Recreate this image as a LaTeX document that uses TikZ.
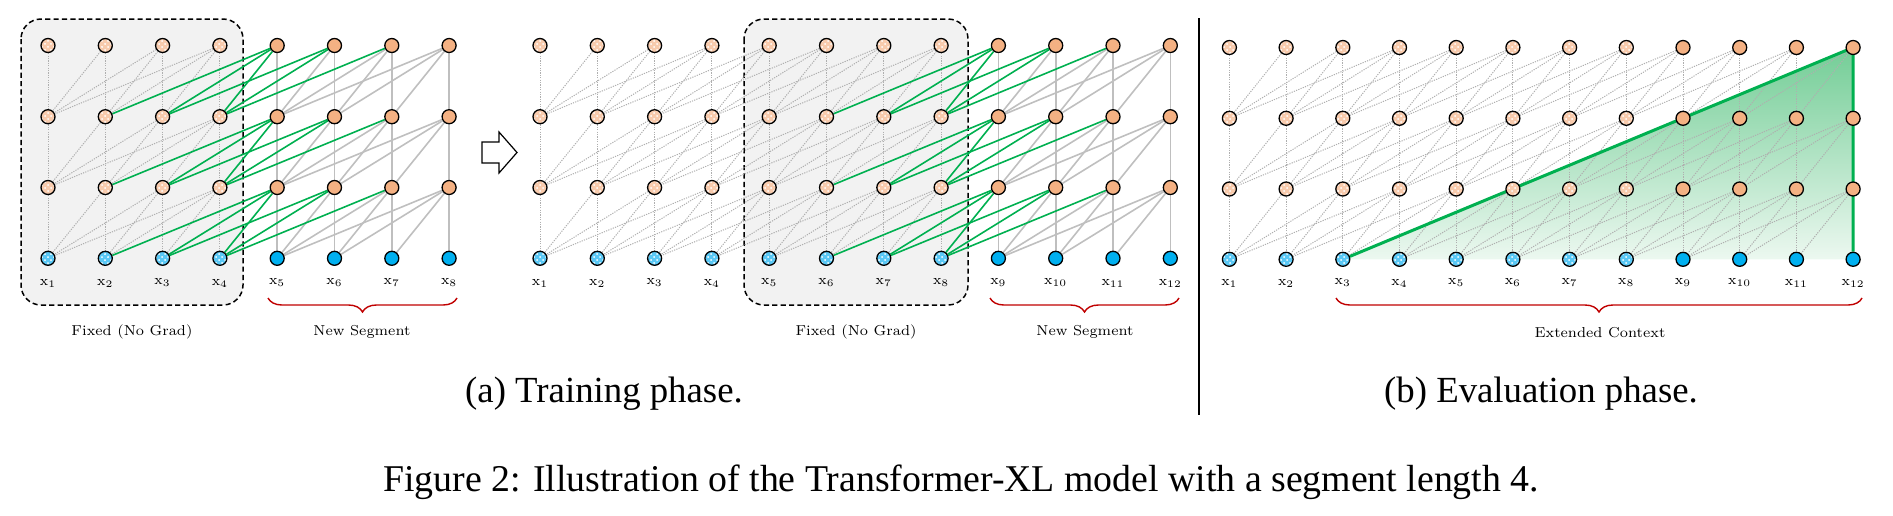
\documentclass[tikz,border=0pt]{standalone}
\usepackage{fontspec}
\newfontfamily\capfont{Liberation Serif}
\usetikzlibrary{patterns,decorations.pathreplacing}
\definecolor{orangeS}{RGB}{244,177,131}
\definecolor{orangeL}{RGB}{248,203,173}
\definecolor{blueS}{RGB}{0,176,240}
\definecolor{blueL}{RGB}{90,200,245}
\definecolor{greenE}{RGB}{0,176,80}
\definecolor{greyE}{RGB}{191,191,191}
\definecolor{dotC}{RGB}{175,175,175}
\definecolor{braceR}{RGB}{192,0,0}
\definecolor{boxF}{RGB}{242,242,242}
\definecolor{triTop}{RGB}{115,205,150}
\definecolor{triBot}{RGB}{236,248,240}
\pgfdeclarelayer{back}
\pgfdeclarelayer{edges}
\pgfsetlayers{back,edges,main}
\begin{document}
\begin{tikzpicture}[x=0.5pt,y=-0.5pt,
  unit/.style={circle, draw=black, line width=0.65pt, minimum size=7pt, inner sep=0pt},
  hid/.style={unit, fill=orangeS},
  hidfix/.style={unit, preaction={fill=orangeL}, pattern=crosshatch dots, pattern color=white},
  inp/.style={unit, fill=blueS},
  inpfix/.style={unit, preaction={fill=blueL}, pattern=crosshatch dots, pattern color=white},
  dotE/.style={draw=dotC, line width=0.5pt, dash pattern=on 0.6pt off 0.6pt},
  greyEdge/.style={draw=greyE, line width=0.8pt},
  greenEdge/.style={draw=greenE, line width=0.8pt},
  fixbox/.style={draw=black, fill=boxF, dashed, dash pattern=on 2.6pt off 1.6pt, line width=0.75pt, rounded corners=10pt},
  lab/.style={font=\fontsize{7}{8}\selectfont, inner sep=0pt},
  seglab/.style={font=\fontsize{7.2}{9}\selectfont, inner sep=0pt},
  capstyle/.style={font=\capfont\fontsize{18.4}{21}\selectfont, inner sep=0pt},
  figcapstyle/.style={font=\capfont\fontsize{18.9}{22}\selectfont, inner sep=0pt},
  bracestyle/.style={decorate, decoration={brace, mirror, amplitude=7pt}, draw=braceR, line width=0.7pt},
]
\useasboundingbox (0,0) rectangle (1893,515);

% ---------------- Panel A left (x1..x8) ----------------
\foreach \i in {1,...,8}{
  \pgfmathsetmacro\xx{48+(\i-1)*57.3}
  \ifnum\i<5 \tikzset{curh/.style={hidfix},curi/.style={inpfix}}\else\tikzset{curh/.style={hid},curi/.style={inp}}\fi
  \node[curi] (A\i-0) at (\xx,258.3) {};
  \node[curh] (A\i-1) at (\xx,187.5) {};
  \node[curh] (A\i-2) at (\xx,116.7) {};
  \node[curh] (A\i-3) at (\xx,45.5) {};
  \node[lab] (LA\i) at (\xx,283) {x\textsubscript{\i}};
}
% ---------------- Panel A middle (x1..x12) ----------------
\foreach \i in {1,...,12}{
  \pgfmathsetmacro\xx{540+(\i-1)*57.3}
  \ifnum\i<9 \tikzset{curh/.style={hidfix},curi/.style={inpfix}}\else\tikzset{curh/.style={hid},curi/.style={inp}}\fi
  \node[curi] (B\i-0) at (\xx,258.3) {};
  \node[curh] (B\i-1) at (\xx,187.5) {};
  \node[curh] (B\i-2) at (\xx,116.7) {};
  \node[curh] (B\i-3) at (\xx,45.5) {};
  \node[lab] (LB\i) at (\xx,283) {x\textsubscript{\i}};
}
% ---------------- Panel B (x1..x12) ----------------
\foreach \i in {1,...,12}{
  \pgfmathsetmacro\xx{1229.4+(\i-1)*56.7}
  \ifnum\i<9 \tikzset{curh/.style={hidfix},curi/.style={inpfix}}\else\tikzset{curh/.style={hid},curi/.style={inp}}\fi
  \node[curi] (C\i-0) at (\xx,259.3) {};
  \node[curh] (C\i-1) at (\xx,189) {};
  \node[curh] (C\i-2) at (\xx,118.3) {};
  \node[curh] (C\i-3) at (\xx,47.5) {};
  \node[lab] (LC\i) at (\xx,283) {x\textsubscript{\i}};
}

% ---------------- backgrounds ----------------
\begin{pgfonlayer}{back}
  \draw[fixbox] (21,19) rectangle (243,305);
  \draw[fixbox] (744,19) rectangle (968,305);
  \shade[top color=triTop, bottom color=triBot] (C3-0.center) -- (C12-3.center) -- (C12-0.center) -- cycle;
\end{pgfonlayer}

% ---------------- edges ----------------
\begin{pgfonlayer}{edges}
% panel A left: grey / dotted
\foreach \rr in {1,2,3}{
  \pgfmathtruncatemacro\kk{\rr-1}
  \foreach \i in {1,...,8}{
    \foreach \dd in {0,...,3}{
      \pgfmathtruncatemacro\jj{\i-\dd}
      \ifnum\jj>0
        \ifnum\i<5
          \draw[dotE] (A\i-\rr) -- (A\jj-\kk);
        \else
          \ifnum\jj>4 \draw[greyEdge] (A\i-\rr) -- (A\jj-\kk);\fi
        \fi
      \fi
    }}}
% panel A left: green
\foreach \rr in {1,2,3}{
  \pgfmathtruncatemacro\kk{\rr-1}
  \foreach \i in {5,...,8}{
    \foreach \dd in {0,...,3}{
      \pgfmathtruncatemacro\jj{\i-\dd}
      \ifnum\jj<5 \draw[greenEdge] (A\i-\rr) -- (A\jj-\kk);\fi
    }}}
% panel A middle: grey / dotted
\foreach \rr in {1,2,3}{
  \pgfmathtruncatemacro\kk{\rr-1}
  \foreach \i in {1,...,12}{
    \foreach \dd in {0,...,3}{
      \pgfmathtruncatemacro\jj{\i-\dd}
      \ifnum\jj>0
        \ifnum\i<9
          \draw[dotE] (B\i-\rr) -- (B\jj-\kk);
        \else
          \ifnum\jj>8 \draw[greyEdge] (B\i-\rr) -- (B\jj-\kk);\fi
        \fi
      \fi
    }}}
% panel A middle: green
\foreach \rr in {1,2,3}{
  \pgfmathtruncatemacro\kk{\rr-1}
  \foreach \i in {9,...,12}{
    \foreach \dd in {0,...,3}{
      \pgfmathtruncatemacro\jj{\i-\dd}
      \ifnum\jj<9 \draw[greenEdge] (B\i-\rr) -- (B\jj-\kk);\fi
    }}}
% panel B: all dotted
\foreach \rr in {1,2,3}{
  \pgfmathtruncatemacro\kk{\rr-1}
  \foreach \i in {1,...,12}{
    \foreach \dd in {0,...,3}{
      \pgfmathtruncatemacro\jj{\i-\dd}
      \ifnum\jj>0 \draw[dotE] (C\i-\rr) -- (C\jj-\kk);\fi
    }}}
% green triangle outline
\draw[draw=greenE, line width=1.5pt, line join=round] (C3-0) -- (C12-3.center) -- (C12-0);
\end{pgfonlayer}

% ---------------- labels ----------------
\node[seglab] (fixA) at (132,332) {Fixed (No Grad)};
\node[seglab] (newA) at (362,332) {New Segment};
\node[seglab] (fixB) at (856,332) {Fixed (No Grad)};
\node[seglab] (newB) at (1085,332) {New Segment};
\node[seglab] (extC) at (1600,333) {Extended Context};

% braces
\coordinate (bA1) at (268,298); \coordinate (bA2) at (457,298);
\coordinate (bB1) at (990,298); \coordinate (bB2) at (1179,298);
\coordinate (bC1) at (1336,298); \coordinate (bC2) at (1862,298);
\draw[bracestyle] (bA1) -- (bA2);
\draw[bracestyle] (bB1) -- (bB2);
\draw[bracestyle] (bC1) -- (bC2);

% block arrow
\draw[line width=0.6pt, fill=white, line join=miter] (482,142) -- (499,142) -- (499,132) -- (517,152.5) -- (499,173) -- (499,163) -- (482,163) -- cycle;

% divider
\coordinate (dv1) at (1199,18); \coordinate (dv2) at (1199,415);
\draw[line width=0.8pt] (dv1) -- (dv2);

% captions
\node[capstyle] (capA) at (604,394) {(a) Training phase.};
\node[capstyle] (capB) at (1541,394) {(b) Evaluation phase.};
\node[figcapstyle] (fig) at (961,482) {Figure 2: Illustration of the Transformer-XL model with a segment length 4.};
\end{tikzpicture}
\end{document}
